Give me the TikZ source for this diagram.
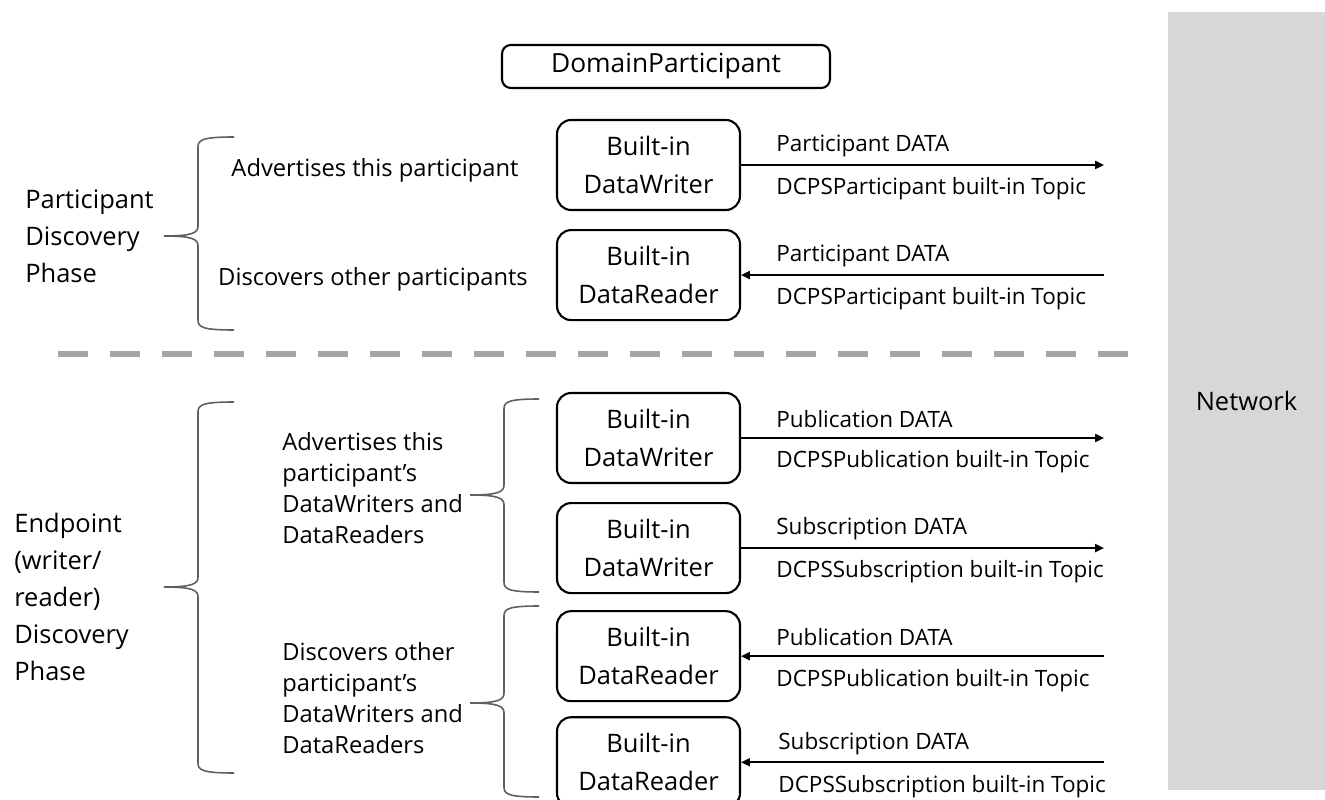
\documentclass[tikz,border=0pt]{standalone}
\usepackage{fontspec}
\setmainfont{Open Sans}
\usetikzlibrary{arrows.meta, positioning, calc}

\definecolor{netgray}{RGB}{215,215,215}
\definecolor{dashgray}{RGB}{165,165,165}
\definecolor{bracegray}{RGB}{95,95,95}

% curly brace: tip x, spine x, end x, top y, tip y, bottom y
\newcommand{\phasebrace}[6]{%
  \draw[bracegray, line width=0.9pt] (#3,#4) .. controls (#2+4,#4) and (#2,#4+3) .. (#2,#4+10)
    -- (#2,#5-10) .. controls (#2,#5-3) and (#2-6,#5) .. (#1,#5)
    .. controls (#2-6,#5) and (#2,#5+3) .. (#2,#5+10)
    -- (#2,#6-10) .. controls (#2,#6-3) and (#2+4,#6) .. (#3,#6);}

\begin{document}
\begin{tikzpicture}[x=0.02cm, y=-0.02cm,
    builtin/.style={draw, line width=1.2pt, rounded corners=8pt, minimum width=3.66cm,
        minimum height=1.8cm, align=center, inner sep=2pt,
        font=\fontsize{14.5}{21.5}\selectfont},
    domainbox/.style={draw, line width=1.2pt, rounded corners=5pt, minimum width=6.56cm,
        minimum height=0.86cm, font=\fontsize{15}{18}\selectfont},
    netcol/.style={fill=netgray, minimum width=3.14cm, minimum height=15.56cm,
        font=\fontsize{14.5}{18}\selectfont},
    phase/.style={anchor=west, align=left, inner sep=0pt, font=\fontsize{14.5}{21}\selectfont},
    mid/.style={align=left, inner sep=0pt, font=\fontsize{13.5}{17.6}\selectfont},
    lbl/.style={anchor=west, inner sep=0pt, font=\fontsize{12.8}{15}\selectfont},
    flow/.style={line width=1.1pt, -{Triangle[length=5pt,width=4.5pt]}}
]
\useasboundingbox (0,0) rectangle (1325,800);

% Network column
\node[netcol] (network) at (1246.5,401) {Network};
\coordinate (net) at (1104,0);

% DomainParticipant
\node[domainbox] (dom) at (666,66.5) {DomainParticipant};

% Participant discovery
\node[builtin] (w1) at (648.5,165) {Built-in\\DataWriter};
\node[builtin, below=0.36cm of w1] (r1) {Built-in\\DataReader};

% Endpoint discovery
\node[builtin] (w2) at (648.5,438) {Built-in\\DataWriter};
\node[builtin, below=0.36cm of w2] (w3) {Built-in\\DataWriter};
\node[builtin, below=0.32cm of w3] (r2) {Built-in\\DataReader};
\node[builtin, below=0.28cm of r2] (r3) {Built-in\\DataReader};

% Arrows to and from the network
\draw[flow] (w1.east) -- (w1.east -| net);
\draw[flow] (r1.east -| net) -- (r1.east);
\draw[flow] (w2.east) -- (w2.east -| net);
\draw[flow] (w3.east) -- (w3.east -| net);
\draw[flow] (r2.east -| net) -- (r2.east);
\draw[flow] (r3.east -| net) -- (r3.east);

% Arrow labels
\node[lbl] (w1a) at ($(w1.east)+(35,-19)$) {Participant DATA};
\node[lbl] (w1b) at ($(w1.east)+(35,24)$) {DCPSParticipant built-in Topic};
\node[lbl] (r1a) at ($(r1.east)+(35,-19)$) {Participant DATA};
\node[lbl] (r1b) at ($(r1.east)+(35,24)$) {DCPSParticipant built-in Topic};
\node[lbl] (w2a) at ($(w2.east)+(35,-19)$) {Publication DATA};
\node[lbl] (w2b) at ($(w2.east)+(35,24)$) {DCPSPublication built-in Topic};
\node[lbl] (w3a) at ($(w3.east)+(35,-19)$) {Subscription DATA};
\node[lbl] (w3b) at ($(w3.east)+(35,24)$) {DCPSSubscription built-in Topic};
\node[lbl] (r2a) at ($(r2.east)+(35,-19)$) {Publication DATA};
\node[lbl] (r2b) at ($(r2.east)+(35,24)$) {DCPSPublication built-in Topic};
\node[lbl] (r3a) at ($(r3.east)+(37,-19)$) {Subscription DATA};
\node[lbl] (r3b) at ($(r3.east)+(37,24)$) {DCPSSubscription built-in Topic};

% Phase labels and braces
\node[phase] (pdp) at (25,236) {Participant\\Discovery\\Phase};
\node[phase] (edp) at (14,597) {Endpoint\\(writer/\\reader)\\Discovery\\Phase};
\phasebrace{164}{198}{234}{137}{236}{330}
\phasebrace{164}{198}{234}{402}{587}{773}
\phasebrace{470}{504}{539}{399}{495}{592}
\phasebrace{470}{504}{539}{606}{703}{797}

\node[mid, align=center] (adv1) at (375,170) {Advertises this participant};
\node[mid, align=center] (dis1) at (373,279) {Discovers other participants};
\node[mid, anchor=west] (adv2) at (282,488) {Advertises this\\participant’s\\DataWriters and\\DataReaders};
\node[mid, anchor=west] (dis2) at (282,698) {Discovers other\\participant’s\\DataWriters and\\DataReaders};

% Separator
\draw[dashgray, line width=0.12cm, dash pattern=on 0.6cm off 0.44cm] (58,354) -- (1128,354);

\end{tikzpicture}
\end{document}
